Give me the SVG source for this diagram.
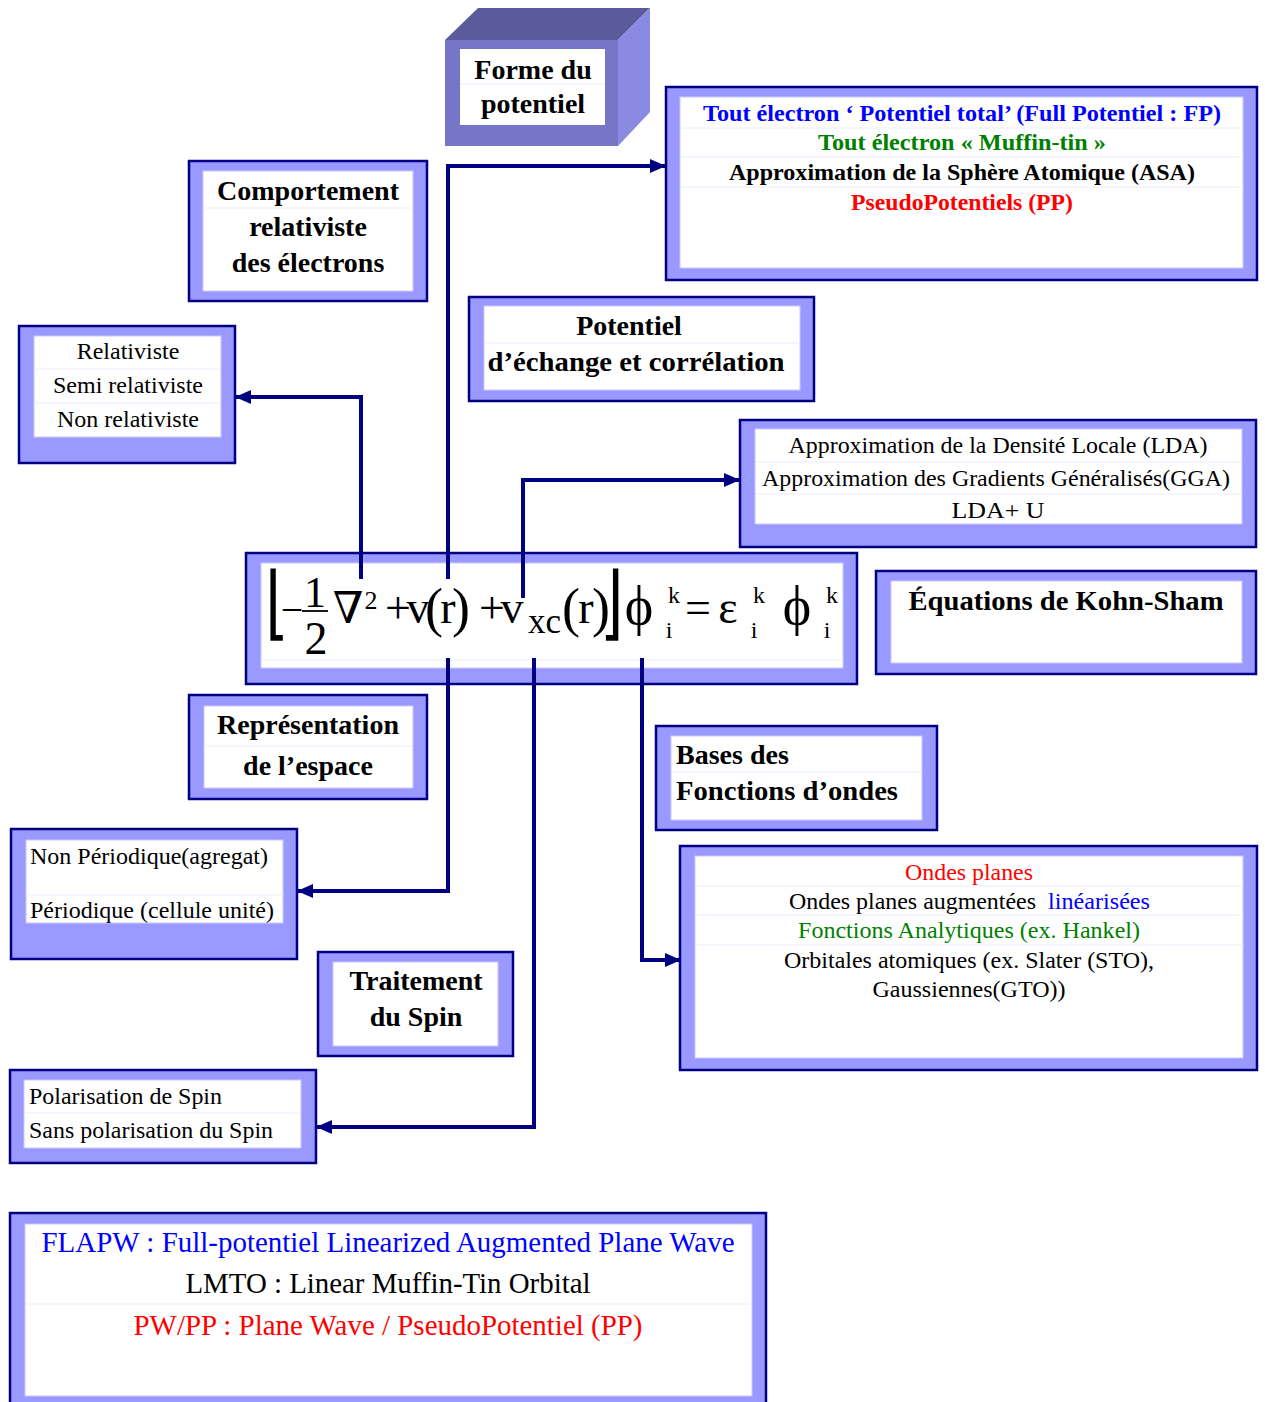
<svg xmlns="http://www.w3.org/2000/svg" width="1265" height="1402" viewBox="0 0 1265 1402">
<style>
.frame{fill:#9999ff;stroke:#000080;stroke-width:2.5}
.inner{fill:#ffffff;stroke:#c9c9ff;stroke-width:1}
.sep{stroke:#ececff;stroke-width:1}
.t{font-family:"Liberation Serif","DejaVu Serif",serif;fill:#000}
.b{font-weight:bold;font-size:28px}
.r{font-size:24px}
.c{text-anchor:middle}
.conn{fill:none;stroke:#000080;stroke-width:4}
.eq{font-family:"Liberation Serif","DejaVu Serif",serif;fill:#000;text-anchor:middle}
</style>
<defs>
<marker id="arr" markerUnits="userSpaceOnUse" markerWidth="16" markerHeight="14" refX="15" refY="7" orient="auto">
<path d="M0,0 L16,7 L0,14 z" fill="#000080"/>
</marker>
</defs>
<rect width="1265" height="1402" fill="#ffffff"/>

<g id="forme">
<polygon points="445,40 478,8 650,8 618,40" fill="#5b5b9c"/>
<polygon points="618,40 650,8 650,112 618,146" fill="#8a8ae2"/>
<rect x="445" y="40" width="173" height="106" fill="#7676c8"/>
<rect x="460" y="49" width="145" height="76" fill="#fff"/>
<line class="sep" x1="460" y1="84" x2="605" y2="84"/>
<text class="t b c" x="533" y="79">Forme du</text>
<text class="t b c" x="533" y="113">potentiel</text>
</g>

<g id="tout">
<rect class="frame" x="666" y="87" width="591" height="193"/>
<rect class="inner" x="680" y="97" width="563" height="171"/>
<line class="sep" x1="680" y1="128" x2="1243" y2="128"/>
<line class="sep" x1="680" y1="157" x2="1243" y2="157"/>
<line class="sep" x1="680" y1="187" x2="1243" y2="187"/>
<text class="t c" style="font-weight:bold;font-size:23px;fill:#0000ff" x="962" y="121" textLength="518" lengthAdjust="spacingAndGlyphs">Tout électron ‘ Potentiel total’ (Full Potentiel : FP)</text>
<text class="t c" style="font-weight:bold;font-size:23px;fill:#008000" x="962" y="150" textLength="288" lengthAdjust="spacingAndGlyphs">Tout électron « Muffin-tin »</text>
<text class="t c" style="font-weight:bold;font-size:23px" x="962" y="180" textLength="466" lengthAdjust="spacingAndGlyphs">Approximation de la Sphère Atomique (ASA)</text>
<text class="t c" style="font-weight:bold;font-size:23px;fill:#ff0000" x="962" y="210" textLength="222" lengthAdjust="spacingAndGlyphs">PseudoPotentiels (PP)</text>
</g>

<g id="comportement">
<rect class="frame" x="189" y="161" width="238" height="140"/>
<rect class="inner" x="203" y="171" width="210" height="120"/>
<line class="sep" x1="203" y1="208" x2="413" y2="208"/>
<text class="t b c" x="308" y="200">Comportement</text>
<text class="t b c" x="308" y="236">relativiste</text>
<text class="t b c" x="308" y="272">des électrons</text>
</g>

<g id="relativiste">
<rect class="frame" x="19" y="326" width="216" height="137"/>
<rect class="inner" x="34" y="336" width="187" height="101"/>
<line class="sep" x1="34" y1="369" x2="221" y2="369"/>
<line class="sep" x1="34" y1="403" x2="221" y2="403"/>
<text class="t r c" x="128" y="359">Relativiste</text>
<text class="t r c" x="128" y="393">Semi relativiste</text>
<text class="t r c" x="128" y="427">Non relativiste</text>
</g>

<g id="potentiel">
<rect class="frame" x="469" y="297" width="345" height="104"/>
<rect class="inner" x="484" y="306" width="316" height="84"/>
<line class="sep" x1="484" y1="343" x2="800" y2="343"/>
<text class="t b c" x="629" y="335">Potentiel</text>
<text class="t b c" x="636" y="371" textLength="297" lengthAdjust="spacingAndGlyphs">d’échange et corrélation</text>
</g>

<g id="lda">
<rect class="frame" x="740" y="420" width="516" height="127"/>
<rect class="inner" x="755" y="429" width="487" height="95"/>
<line class="sep" x1="755" y1="462" x2="1242" y2="462"/>
<line class="sep" x1="755" y1="494" x2="1242" y2="494"/>
<text class="t r c" x="998" y="453" textLength="419" lengthAdjust="spacingAndGlyphs">Approximation de la Densité Locale (LDA)</text>
<text class="t r c" x="996" y="486" textLength="468" lengthAdjust="spacingAndGlyphs">Approximation des Gradients Généralisés(GGA)</text>
<text class="t r c" x="998" y="518" textLength="93" lengthAdjust="spacingAndGlyphs">LDA+ U</text>
</g>

<g id="equation">
<rect class="frame" x="246" y="553" width="611" height="131"/>
<rect class="inner" x="261" y="563" width="582" height="105"/>
<line class="sep" x1="261" y1="660" x2="843" y2="660"/>
<text class="eq" style="font-family:'DejaVu Sans',sans-serif;font-size:60px" transform="translate(277,630) scale(1,1.35)">⌊</text>
<text class="eq" style="font-size:40px" x="292" y="623">−</text>
<text class="eq" style="font-size:44px" x="315" y="607">1</text>
<line x1="302" y1="611" x2="328" y2="611" stroke="#000" stroke-width="1.8"/>
<text class="eq" style="font-size:46px" x="316" y="654">2</text>
<text class="eq" style="font-size:44px" x="348" y="623">∇</text>
<text class="eq" style="font-size:26px" x="371" y="609">2</text>
<text class="eq" style="font-size:46px" x="398" y="623">+</text>
<text class="eq" style="font-size:46px" x="418" y="623">v</text>
<text class="eq" style="font-size:54px" x="434" y="626">(</text>
<text class="eq" style="font-size:46px" x="448" y="623">r</text>
<text class="eq" style="font-size:54px" x="461" y="626">)</text>
<text class="eq" style="font-size:46px" x="492" y="623">+</text>
<text class="eq" style="font-size:46px" x="512" y="623">v</text>
<text class="eq" style="font-size:35px;text-anchor:start" x="528" y="633">xc</text>
<text class="eq" style="font-size:54px" x="571" y="626">(</text>
<text class="eq" style="font-size:46px" x="586" y="623">r</text>
<text class="eq" style="font-size:54px" x="601" y="626">)</text>
<text class="eq" style="font-family:'DejaVu Sans',sans-serif;font-size:60px" transform="translate(612,630) scale(1,1.35)">⌋</text>
<text class="eq" style="font-size:54px" x="639" y="624">ϕ</text>
<text class="eq" style="font-size:24px" x="674" y="603">k</text>
<text class="eq" style="font-size:24px" x="669" y="638">i</text>
<text class="eq" style="font-size:46px" x="698" y="623">=</text>
<text class="eq" style="font-size:46px" x="728" y="623">ε</text>
<text class="eq" style="font-size:24px" x="759" y="603">k</text>
<text class="eq" style="font-size:24px" x="754" y="638">i</text>
<text class="eq" style="font-size:54px" x="797" y="624">ϕ</text>
<text class="eq" style="font-size:24px" x="832" y="603">k</text>
<text class="eq" style="font-size:24px" x="827" y="638">i</text>
</g>

<g id="kohnsham">
<rect class="frame" x="876" y="571" width="380" height="103"/>
<rect class="inner" x="891" y="581" width="351" height="82"/>
<text class="t b c" x="1066" y="610" textLength="315" lengthAdjust="spacingAndGlyphs">Équations de Kohn-Sham</text>
</g>

<g id="representation">
<rect class="frame" x="189" y="695" width="238" height="104"/>
<rect class="inner" x="204" y="706" width="209" height="82"/>
<line class="sep" x1="204" y1="746" x2="413" y2="746"/>
<text class="t b c" x="308" y="734">Représentation</text>
<text class="t b c" x="308" y="775">de l’espace</text>
</g>

<g id="periodique">
<rect class="frame" x="11" y="829" width="286" height="130"/>
<rect class="inner" x="26" y="840" width="257" height="83"/>
<line class="sep" x1="26" y1="895" x2="283" y2="895"/>
<text class="t r" x="30" y="864" textLength="238" lengthAdjust="spacingAndGlyphs">Non Périodique(agregat)</text>
<text class="t r" x="30" y="918" textLength="244" lengthAdjust="spacingAndGlyphs">Périodique (cellule unité)</text>
</g>

<g id="bases">
<rect class="frame" x="656" y="726" width="281" height="104"/>
<rect class="inner" x="671" y="736" width="251" height="84"/>
<line class="sep" x1="671" y1="772" x2="922" y2="772"/>
<text class="t b" x="676" y="764">Bases des</text>
<text class="t b" x="676" y="800" textLength="222" lengthAdjust="spacingAndGlyphs">Fonctions d’ondes</text>
</g>

<g id="ondes">
<rect class="frame" x="680" y="846" width="577" height="224"/>
<rect class="inner" x="695" y="856" width="548" height="202"/>
<line class="sep" x1="695" y1="886" x2="1243" y2="886"/>
<line class="sep" x1="695" y1="915" x2="1243" y2="915"/>
<line class="sep" x1="695" y1="945" x2="1243" y2="945"/>
<text class="t r c" style="fill:#ff0000" x="969" y="880" textLength="128" lengthAdjust="spacingAndGlyphs">Ondes planes</text>
<text class="t r" x="789" y="909" textLength="247" lengthAdjust="spacingAndGlyphs">Ondes planes augmentées</text>
<text class="t r" style="fill:#0000ff" x="1048" y="909" textLength="102" lengthAdjust="spacingAndGlyphs">linéarisées</text>
<text class="t r c" style="fill:#008000" x="969" y="938" textLength="342" lengthAdjust="spacingAndGlyphs">Fonctions Analytiques (ex. Hankel)</text>
<text class="t r c" x="969" y="968" textLength="370" lengthAdjust="spacingAndGlyphs">Orbitales atomiques (ex. Slater (STO),</text>
<text class="t r c" x="969" y="997" textLength="193" lengthAdjust="spacingAndGlyphs">Gaussiennes(GTO))</text>
</g>

<g id="traitement">
<rect class="frame" x="318" y="952" width="195" height="104"/>
<rect class="inner" x="333" y="962" width="165" height="84"/>
<text class="t b c" x="416" y="990">Traitement</text>
<text class="t b c" x="416" y="1026">du Spin</text>
</g>

<g id="polarisation">
<rect class="frame" x="10" y="1070" width="306" height="93"/>
<rect class="inner" x="24" y="1080" width="277" height="68"/>
<line class="sep" x1="24" y1="1113" x2="301" y2="1113"/>
<text class="t r" x="29" y="1104" textLength="193" lengthAdjust="spacingAndGlyphs">Polarisation de Spin</text>
<text class="t r" x="29" y="1138" textLength="244" lengthAdjust="spacingAndGlyphs">Sans polarisation du Spin</text>
</g>

<g id="methodes">
<rect class="frame" x="10" y="1213" width="756" height="200"/>
<rect class="inner" x="25" y="1224" width="727" height="172"/>
<line class="sep" x1="25" y1="1304" x2="752" y2="1304"/>
<text class="t c" style="font-size:29px;fill:#0000ff" x="388" y="1252" textLength="693" lengthAdjust="spacingAndGlyphs">FLAPW : Full-potentiel Linearized Augmented Plane Wave</text>
<text class="t c" style="font-size:29px" x="388" y="1293" textLength="405" lengthAdjust="spacingAndGlyphs">LMTO : Linear Muffin-Tin Orbital</text>
<text class="t c" style="font-size:29px;fill:#ff0000" x="388" y="1335" textLength="509" lengthAdjust="spacingAndGlyphs">PW/PP : Plane Wave / PseudoPotentiel (PP)</text>
</g>

<g id="connectors">
<path class="conn" d="M361,579 V397 H236" marker-end="url(#arr)"/>
<path class="conn" d="M448,579 V166 H665" marker-end="url(#arr)"/>
<path class="conn" d="M523,598 V480 H739" marker-end="url(#arr)"/>
<path class="conn" d="M448,658 V891 H298" marker-end="url(#arr)"/>
<path class="conn" d="M534,658 V1127 H317" marker-end="url(#arr)"/>
<path class="conn" d="M642,658 V960 H680" marker-end="url(#arr)"/>
</g>
</svg>
